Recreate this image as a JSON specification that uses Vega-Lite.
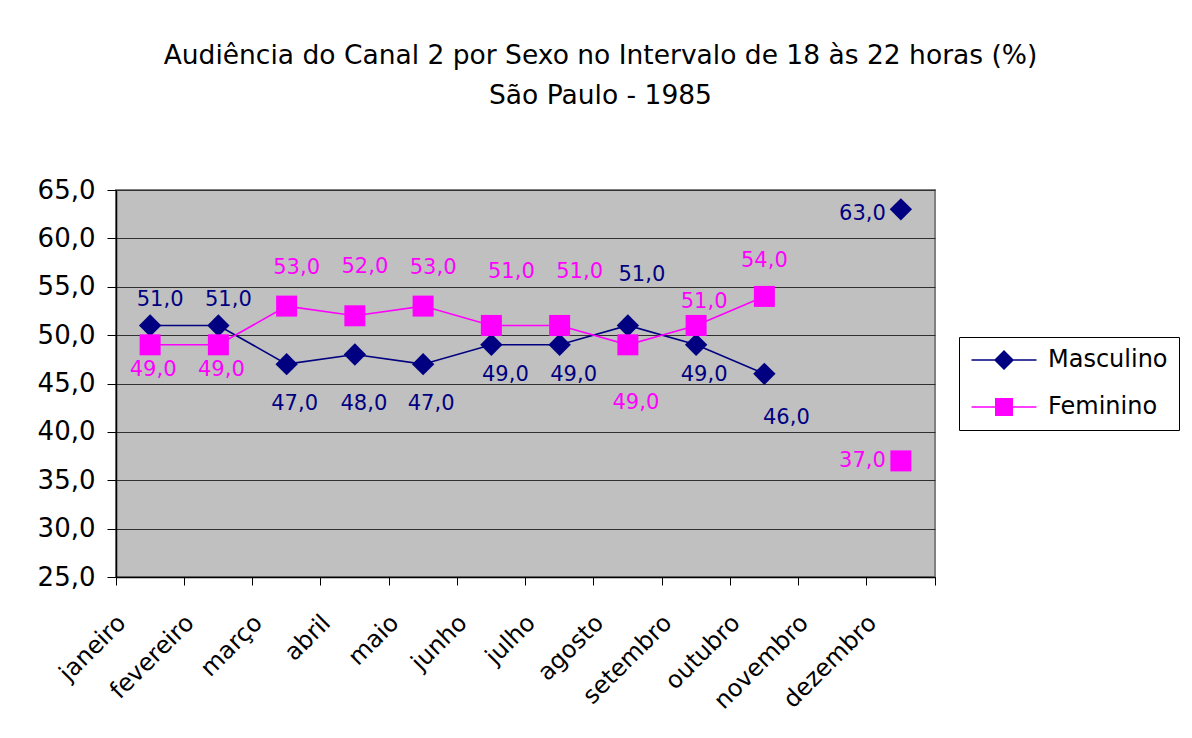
{
  "$schema": "https://vega.github.io/schema/vega-lite/v6.json",
  "width": 819,
  "height": 387,
  "autosize": {"type": "none"},
  "padding": {"left": 116, "top": 190, "right": 257, "bottom": 161},
  "background": "white",
  "title": {
    "text": ["Audiência do Canal 2 por Sexo no Intervalo de 18 às 22 horas (%)", "São Paulo - 1985"],
    "anchor": "middle",
    "dx": 75,
    "fontSize": 26.5,
    "fontWeight": "normal",
    "font": "DejaVu Sans",
    "color": "black",
    "lineHeight": 40,
    "offset": 68
  },
  "data": {
    "values": [
      {"mes": "janeiro", "sexo": "Masculino", "valor": 51},
      {"mes": "fevereiro", "sexo": "Masculino", "valor": 51},
      {"mes": "março", "sexo": "Masculino", "valor": 47},
      {"mes": "abril", "sexo": "Masculino", "valor": 48},
      {"mes": "maio", "sexo": "Masculino", "valor": 47},
      {"mes": "junho", "sexo": "Masculino", "valor": 49},
      {"mes": "julho", "sexo": "Masculino", "valor": 49},
      {"mes": "agosto", "sexo": "Masculino", "valor": 51},
      {"mes": "setembro", "sexo": "Masculino", "valor": 49},
      {"mes": "outubro", "sexo": "Masculino", "valor": 46},
      {"mes": "novembro", "sexo": "Masculino", "valor": null},
      {"mes": "dezembro", "sexo": "Masculino", "valor": 63},
      {"mes": "janeiro", "sexo": "Feminino", "valor": 49},
      {"mes": "fevereiro", "sexo": "Feminino", "valor": 49},
      {"mes": "março", "sexo": "Feminino", "valor": 53},
      {"mes": "abril", "sexo": "Feminino", "valor": 52},
      {"mes": "maio", "sexo": "Feminino", "valor": 53},
      {"mes": "junho", "sexo": "Feminino", "valor": 51},
      {"mes": "julho", "sexo": "Feminino", "valor": 51},
      {"mes": "agosto", "sexo": "Feminino", "valor": 49},
      {"mes": "setembro", "sexo": "Feminino", "valor": 51},
      {"mes": "outubro", "sexo": "Feminino", "valor": 54},
      {"mes": "novembro", "sexo": "Feminino", "valor": null},
      {"mes": "dezembro", "sexo": "Feminino", "valor": 37}
    ]
  },
  "encoding": {
    "x": {
      "field": "mes",
      "type": "nominal",
      "sort": null,
      "bandPosition": 0.5,
      "scale": {
        "type": "band",
        "domain": ["janeiro", "fevereiro", "março", "abril", "maio", "junho", "julho", "agosto", "setembro", "outubro", "novembro", "dezembro"],
        "paddingInner": 0,
        "paddingOuter": 0
      },
      "axis": {
        "title": null,
        "labelAngle": -45,
        "labelAlign": "right",
        "labelBaseline": "middle",
        "labelFont": "DejaVu Sans",
        "labelFontSize": 24,
        "labelColor": "black",
        "labelPadding": 34,
        "labelOffset": -28,
        "bandPosition": 1,
        "tickExtra": true,
        "tickSize": 8,
        "tickColor": "black",
        "domainColor": "black",
        "domainWidth": 1.5,
        "grid": false
      }
    },
    "y": {
      "field": "valor",
      "type": "quantitative",
      "scale": {"domain": [25, 65], "nice": false, "zero": false},
      "axis": {
        "title": null,
        "values": [25, 30, 35, 40, 45, 50, 55, 60, 65],
        "format": ".1f",
        "labelFont": "DejaVu Sans",
        "labelFontSize": 26,
        "labelColor": "black",
        "labelPadding": 12,
        "tickSize": 9,
        "tickColor": "black",
        "domainColor": "black",
        "domainWidth": 1.5,
        "grid": true,
        "gridColor": "#303030",
        "gridWidth": 1
      }
    }
  },
  "layer": [
    {
      "transform": [{"filter": "isValid(datum.valor)"}],
      "mark": {"type": "point", "filled": true, "opacity": 0, "size": 400},
      "encoding": {
        "color": {
          "field": "sexo",
          "type": "nominal",
          "scale": {"domain": ["Masculino", "Feminino"], "range": ["#000080", "#FF00FF"]},
          "legend": {
            "orient": "none",
            "legendX": 843,
            "legendY": 147,
            "title": null,
            "strokeColor": "black",
            "fillColor": "white",
            "padding": 11,
            "labelFont": "DejaVu Sans",
            "labelFontSize": 24,
            "labelColor": "black",
            "symbolSize": 400,
            "symbolOpacity": 1,
            "symbolOffset": 22,
            "labelOffset": 32,
            "rowPadding": 22
          }
        },
        "shape": {
          "field": "sexo",
          "type": "nominal",
          "scale": {
            "domain": ["Masculino", "Feminino"],
            "range": ["M-3.25,-0.08H3.25V0.08H-3.25ZM0,-1L1,0L0,1L-1,0Z", "M-3.25,-0.08H3.25V0.08H-3.25ZM-0.9,-0.9H0.9V0.9H-0.9Z"]
          },
          "legend": {
            "orient": "none",
            "legendX": 843,
            "legendY": 147,
            "title": null,
            "strokeColor": "black",
            "fillColor": "white",
            "padding": 11,
            "labelFont": "DejaVu Sans",
            "labelFontSize": 24,
            "labelColor": "black",
            "symbolSize": 400,
            "symbolOpacity": 1,
            "symbolOffset": 22,
            "labelOffset": 32,
            "rowPadding": 22
          }
        }
      }
    },
    {
      "transform": [{"filter": "datum.sexo === 'Masculino'"}],
      "mark": {"type": "line", "strokeWidth": 1.6, "color": "#000080", "invalid": "break-paths-show-domains"},
      "encoding": {}
    },
    {
      "transform": [{"filter": "datum.sexo === 'Feminino'"}],
      "mark": {"type": "line", "strokeWidth": 1.6, "color": "#FF00FF", "invalid": "break-paths-show-domains"},
      "encoding": {}
    },
    {
      "transform": [{"filter": "datum.sexo === 'Masculino' && isValid(datum.valor)"}],
      "mark": {"type": "point", "shape": "diamond", "filled": true, "opacity": 1, "size": 500, "color": "#000080"}
    },
    {
      "transform": [{"filter": "datum.sexo === 'Feminino' && isValid(datum.valor)"}],
      "mark": {"type": "point", "shape": "square", "filled": true, "opacity": 1, "size": 441, "color": "#FF00FF"}
    },
    {
      "transform": [{"filter": "datum.sexo === 'Masculino' && indexof(['janeiro','fevereiro'], datum.mes) >= 0"}],
      "mark": {"type": "text", "color": "#000080", "font": "DejaVu Sans", "fontSize": 21, "baseline": "middle", "dx": 10, "dy": -25},
      "encoding": {"text": {"field": "valor", "type": "quantitative", "format": ".1f"}}
    },
    {
      "transform": [{"filter": "datum.sexo === 'Masculino' && datum.mes === 'agosto'"}],
      "mark": {"type": "text", "color": "#000080", "font": "DejaVu Sans", "fontSize": 21, "baseline": "middle", "dx": 14, "dy": -50},
      "encoding": {"text": {"field": "valor", "type": "quantitative", "format": ".1f"}}
    },
    {
      "transform": [{"filter": "datum.sexo === 'Masculino' && indexof(['março','maio'], datum.mes) >= 0"}],
      "mark": {"type": "text", "color": "#000080", "font": "DejaVu Sans", "fontSize": 21, "baseline": "middle", "dx": 8, "dy": 40},
      "encoding": {"text": {"field": "valor", "type": "quantitative", "format": ".1f"}}
    },
    {
      "transform": [{"filter": "datum.sexo === 'Masculino' && datum.mes === 'abril'"}],
      "mark": {"type": "text", "color": "#000080", "font": "DejaVu Sans", "fontSize": 21, "baseline": "middle", "dx": 9, "dy": 50},
      "encoding": {"text": {"field": "valor", "type": "quantitative", "format": ".1f"}}
    },
    {
      "transform": [{"filter": "datum.sexo === 'Masculino' && indexof(['junho','julho'], datum.mes) >= 0"}],
      "mark": {"type": "text", "color": "#000080", "font": "DejaVu Sans", "fontSize": 21, "baseline": "middle", "dx": 14, "dy": 30},
      "encoding": {"text": {"field": "valor", "type": "quantitative", "format": ".1f"}}
    },
    {
      "transform": [{"filter": "datum.sexo === 'Masculino' && datum.mes === 'setembro'"}],
      "mark": {"type": "text", "color": "#000080", "font": "DejaVu Sans", "fontSize": 21, "baseline": "middle", "dx": 8, "dy": 30},
      "encoding": {"text": {"field": "valor", "type": "quantitative", "format": ".1f"}}
    },
    {
      "transform": [{"filter": "datum.sexo === 'Masculino' && datum.mes === 'outubro'"}],
      "mark": {"type": "text", "color": "#000080", "font": "DejaVu Sans", "fontSize": 21, "baseline": "middle", "dx": 22, "dy": 44},
      "encoding": {"text": {"field": "valor", "type": "quantitative", "format": ".1f"}}
    },
    {
      "transform": [{"filter": "datum.sexo === 'Masculino' && datum.mes === 'dezembro'"}],
      "mark": {"type": "text", "color": "#000080", "font": "DejaVu Sans", "fontSize": 21, "baseline": "middle", "align": "right", "dx": -15, "dy": 5},
      "encoding": {"text": {"field": "valor", "type": "quantitative", "format": ".1f"}}
    },
    {
      "transform": [{"filter": "datum.sexo === 'Feminino' && indexof(['janeiro','fevereiro'], datum.mes) >= 0"}],
      "mark": {"type": "text", "color": "#FF00FF", "font": "DejaVu Sans", "fontSize": 21, "baseline": "middle", "dx": 3, "dy": 25},
      "encoding": {"text": {"field": "valor", "type": "quantitative", "format": ".1f"}}
    },
    {
      "transform": [{"filter": "datum.sexo === 'Feminino' && indexof(['março','maio'], datum.mes) >= 0"}],
      "mark": {"type": "text", "color": "#FF00FF", "font": "DejaVu Sans", "fontSize": 21, "baseline": "middle", "dx": 10, "dy": -38},
      "encoding": {"text": {"field": "valor", "type": "quantitative", "format": ".1f"}}
    },
    {
      "transform": [{"filter": "datum.sexo === 'Feminino' && datum.mes === 'abril'"}],
      "mark": {"type": "text", "color": "#FF00FF", "font": "DejaVu Sans", "fontSize": 21, "baseline": "middle", "dx": 10, "dy": -49},
      "encoding": {"text": {"field": "valor", "type": "quantitative", "format": ".1f"}}
    },
    {
      "transform": [{"filter": "datum.sexo === 'Feminino' && indexof(['junho','julho'], datum.mes) >= 0"}],
      "mark": {"type": "text", "color": "#FF00FF", "font": "DejaVu Sans", "fontSize": 21, "baseline": "middle", "dx": 20, "dy": -53},
      "encoding": {"text": {"field": "valor", "type": "quantitative", "format": ".1f"}}
    },
    {
      "transform": [{"filter": "datum.sexo === 'Feminino' && datum.mes === 'agosto'"}],
      "mark": {"type": "text", "color": "#FF00FF", "font": "DejaVu Sans", "fontSize": 21, "baseline": "middle", "dx": 8, "dy": 58},
      "encoding": {"text": {"field": "valor", "type": "quantitative", "format": ".1f"}}
    },
    {
      "transform": [{"filter": "datum.sexo === 'Feminino' && datum.mes === 'setembro'"}],
      "mark": {"type": "text", "color": "#FF00FF", "font": "DejaVu Sans", "fontSize": 21, "baseline": "middle", "dx": 8, "dy": -23},
      "encoding": {"text": {"field": "valor", "type": "quantitative", "format": ".1f"}}
    },
    {
      "transform": [{"filter": "datum.sexo === 'Feminino' && datum.mes === 'outubro'"}],
      "mark": {"type": "text", "color": "#FF00FF", "font": "DejaVu Sans", "fontSize": 21, "baseline": "middle", "dx": 0, "dy": -35},
      "encoding": {"text": {"field": "valor", "type": "quantitative", "format": ".1f"}}
    },
    {
      "transform": [{"filter": "datum.sexo === 'Feminino' && datum.mes === 'dezembro'"}],
      "mark": {"type": "text", "color": "#FF00FF", "font": "DejaVu Sans", "fontSize": 21, "baseline": "middle", "align": "right", "dx": -15, "dy": 0},
      "encoding": {"text": {"field": "valor", "type": "quantitative", "format": ".1f"}}
    }
  ],
  "config": {
    "locale": {
      "number": {"decimal": ",", "thousands": ".", "grouping": [3], "currency": ["R$", ""]}
    },
    "font": "DejaVu Sans",
    "view": {"fill": "#C0C0C0", "stroke": "#808080", "strokeWidth": 2}
  }
}
